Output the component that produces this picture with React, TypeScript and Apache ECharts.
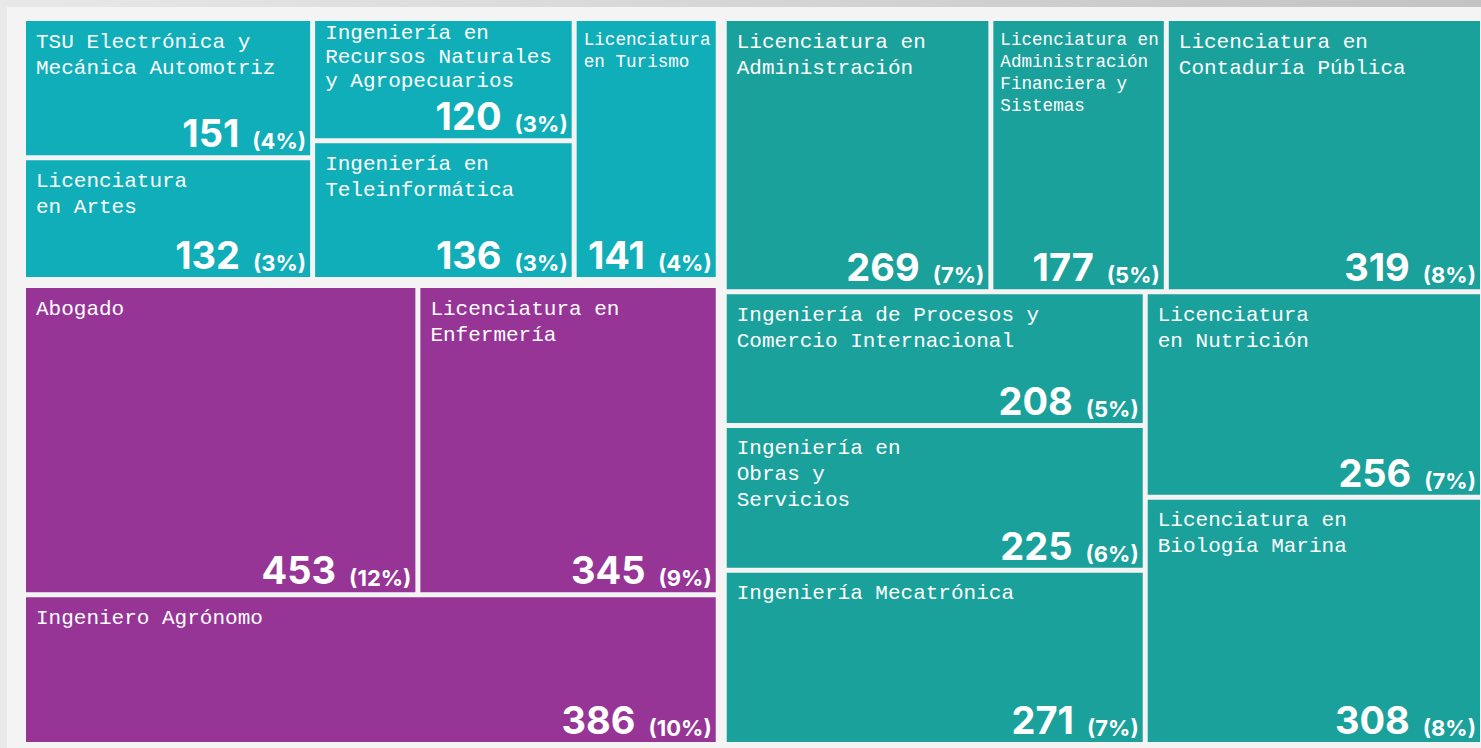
import React, { useEffect, useRef } from 'react';
import * as echarts from 'echarts';

// ---------- data ----------
const cyanPrograms = [
  'TSU Electrónica y\nMecánica Automotriz',
  'Licenciatura\nen Artes',
  'Ingeniería en\nRecursos Naturales\ny Agropecuarios',
  'Ingeniería en\nTeleinformática',
  'Licenciatura\nen Turismo',
];
const cyanValues = [151, 132, 120, 136, 141];

const purplePrograms = ['Abogado', 'Licenciatura en\nEnfermería', 'Ingeniero Agrónomo'];
const purpleValues = [453, 345, 386];

const tealPrograms = [
  'Licenciatura en\nAdministración',
  'Licenciatura en\nAdministración\nFinanciera y\nSistemas',
  'Licenciatura en\nContaduría Pública',
  'Ingeniería de Procesos y\nComercio Internacional',
  'Ingeniería en\nObras y\nServicios',
  'Ingeniería Mecatrónica',
  'Licenciatura\nen Nutrición',
  'Licenciatura en\nBiología Marina',
];
const tealValues = [269, 177, 319, 208, 225, 271, 256, 308];

// ---------- styles / layout settings ----------
const groupColors = ['#10aeb8', '#973597', '#1ba19b'];
const PLOT_W = 1454;
const PLOT_H = 721;
const OUTER_GAP = 11;
const INNER_GAP = 5;
const ASPECT = 1.53;
const PHI = (1 + Math.sqrt(5)) / 2;

type Rect = [number, number, number, number];

// d3-style squarified tiling
function squarify(values: number[], X0: number, Y0: number, X1: number, Y1: number): Rect[] {
  const out: Rect[] = new Array(values.length);
  let x0 = X0, y0 = Y0;
  const x1 = X1, y1 = Y1;
  let value = values.reduce((a, b) => a + b, 0);
  const n = values.length;
  let i0 = 0, i1 = 0;
  while (i0 < n) {
    const dx = x1 - x0;
    const dy = (y1 - y0) * ASPECT;
    let sumValue = values[i1++];
    let minV = sumValue, maxV = sumValue;
    const alpha = Math.max(dy / dx, dx / dy) / (value * PHI);
    let beta = sumValue * sumValue * alpha;
    let minRatio = Math.max(maxV / beta, beta / minV);
    for (; i1 < n; ++i1) {
      const v = values[i1];
      sumValue += v;
      if (v < minV) minV = v;
      if (v > maxV) maxV = v;
      beta = sumValue * sumValue * alpha;
      const newRatio = Math.max(maxV / beta, beta / minV);
      if (newRatio > minRatio) { sumValue -= v; break; }
      minRatio = newRatio;
    }
    if (dx < dy) {
      const yEnd = i1 < n ? y0 + (y1 - y0) * sumValue / value : y1;
      let cx = x0;
      for (let i = i0; i < i1; i++) {
        const w = (x1 - x0) * values[i] / sumValue;
        out[i] = [cx, y0, cx + w, yEnd];
        cx += w;
      }
      y0 = yEnd;
    } else {
      const xEnd = i1 < n ? x0 + (x1 - x0) * sumValue / value : x1;
      let cy = y0;
      for (let i = i0; i < i1; i++) {
        const h = (y1 - y0) * values[i] / sumValue;
        out[i] = [x0, cy, xEnd, cy + h];
        cy += h;
      }
      x0 = xEnd;
    }
    value -= sumValue;
    i0 = i1;
  }
  return out;
}

type Leaf = { name: string; value: number; pct: number; group: number; r: Rect };

function buildLeaves(): Leaf[] {
  const groups = [
    { names: cyanPrograms, values: cyanValues },
    { names: purplePrograms, values: purpleValues },
    { names: tealPrograms, values: tealValues },
  ];
  const totals = groups.map((g) => g.values.reduce((a, b) => a + b, 0));
  const grand = totals.reduce((a, b) => a + b, 0);
  const po = OUTER_GAP / 2;
  const groupRects = squarify(totals, -po, -po, PLOT_W + po, PLOT_H + po).map(
    (r) => [r[0] + po, r[1] + po, r[2] - po, r[3] - po] as Rect
  );
  const leaves: Leaf[] = [];
  const pi = INNER_GAP / 2;
  groups.forEach((g, gi) => {
    const gr = groupRects[gi];
    const rects = squarify(g.values, gr[0] - pi, gr[1] - pi, gr[2] + pi, gr[3] + pi);
    rects.forEach((r, i) => {
      leaves.push({
        name: g.names[i],
        value: g.values[i],
        pct: Math.round((g.values[i] / grand) * 100),
        group: gi,
        r: [r[0] + pi, r[1] + pi, r[2] - pi, r[3] - pi],
      });
    });
  });
  return leaves;
}

export default function App() {
  const ref = useRef<HTMLDivElement>(null);
  useEffect(() => {
    if (!ref.current) return;
    const chart = echarts.init(ref.current, undefined, { renderer: 'svg' });
    const leaves = buildLeaves();
    chart.setOption({
      animation: false,
      grid: { left: 26, top: 21, width: PLOT_W, height: PLOT_H },
      xAxis: { type: 'value', min: 0, max: PLOT_W, show: false },
      yAxis: { type: 'value', min: 0, max: PLOT_H, inverse: true, show: false },
      series: [
        {
          type: 'custom',
          clip: false,
          data: leaves.map((l) => ({
            name: l.name.replace(/\n/g, ' '),
            value: [l.r[0], l.r[1], l.r[2], l.r[3], l.value],
          })),
          renderItem: (params: any, api: any) => {
            const leaf = leaves[params.dataIndex];
            const a = api.coord([api.value(0), api.value(1)]);
            const b = api.coord([api.value(2), api.value(3)]);
            const x = a[0], y = a[1], w = b[0] - a[0], h = b[1] - a[1];
            const lines = leaf.name.split('\n');
            const maxLen = Math.max(...lines.map((s) => s.length));
            const fs = Math.min(21, (w - 12) / (maxLen * 0.6));
            const small = fs < 20;
            const available = h - 45;
            let lh = Math.round(fs * 1.24);
            let top = 8;
            if (lines.length * lh + top > available) {
              lh = Math.max(fs * 1.05, (available - 1) / lines.length);
              top = 1;
            }
            return {
              type: 'group',
              children: [
                {
                  type: 'rect',
                  shape: { x, y, width: w, height: h },
                  style: { fill: groupColors[leaf.group] },
                },
                {
                  type: 'text',
                  x: x + (small ? 7 : 10),
                  y: y + top,
                  style: {
                    text: leaf.name,
                    fill: '#ffffff',
                    fontFamily: '"Liberation Mono", monospace',
                    fontSize: fs,
                    lineHeight: lh,
                    align: 'left',
                    verticalAlign: 'top',
                  },
                },
                {
                  type: 'text',
                  x: x + w - 4,
                  y: y + h - 3,
                  style: {
                    text: `{n|${leaf.value}}{g| }{p|(${leaf.pct}%)}`,
                    fill: '#ffffff',
                    fontFamily: 'Inter, sans-serif',
                    fontWeight: 700,
                    fontSize: 22,
                    align: 'right',
                    verticalAlign: 'bottom',
                    rich: {
                      n: {
                        fill: '#ffffff',
                        fontFamily: 'Inter, sans-serif',
                        fontWeight: 700,
                        fontSize: 38,
                        lineHeight: 30,
                        verticalAlign: 'bottom',
                      },
                      g: {
                        fontSize: 22,
                        width: 13,
                        lineHeight: 18.4,
                        verticalAlign: 'bottom',
                      },
                      p: {
                        fill: '#ffffff',
                        fontFamily: 'Inter, sans-serif',
                        fontWeight: 700,
                        fontSize: 22,
                        lineHeight: 18.4,
                        verticalAlign: 'bottom',
                      },
                    },
                  },
                },
              ],
            };
          },
        },
      ],
    });
    return () => chart.dispose();
  }, []);

  return (
    <div style={{ position: 'absolute', left: 0, top: 0, width: 1481, height: 748, background: '#e9e9e9', overflow: 'hidden' }}>
      <div style={{ position: 'absolute', left: 0, top: 0, width: 1481, height: 7, background: 'linear-gradient(to right, #e8e8e8, #c3c3c3)' }} />
      <div style={{ position: 'absolute', left: 7, top: 7, width: 1474, height: 741, background: '#f4f4f4' }} />
      <div ref={ref} style={{ position: 'absolute', left: 0, top: 0, width: 1481, height: 748 }} />
    </div>
  );
}
